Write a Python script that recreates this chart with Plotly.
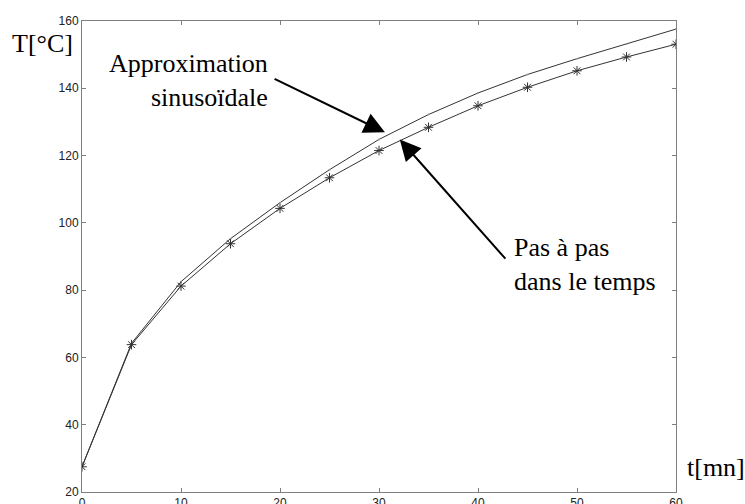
import plotly.graph_objects as go

# Temps [mn] et températures [°C]
t_mn = [0, 5, 10, 15, 20, 25, 30, 35, 40, 45, 50, 55, 60]
temp_pas_a_pas = [27.5, 63.8, 81.2, 93.8, 104.3, 113.4, 121.5, 128.4, 134.8, 140.3, 145.2, 149.3, 153.1]
temp_sinus = [27.5, 64.2, 82.5, 95.3, 106.0, 115.8, 124.8, 132.2, 138.6, 144.1, 148.8, 153.2, 157.6]

x_ticks = [0, 10, 20, 30, 40, 50, 60]
y_ticks = [20, 40, 60, 80, 100, 120, 140, 160]

serif = "Liberation Serif, Times New Roman, serif"
sans = "Liberation Sans, Arial, sans-serif"

fig = go.Figure()

# approximation sinusoïdale (trait continu, petits points)
fig.add_trace(go.Scatter(x=t_mn, y=temp_sinus, mode="lines+markers",
                         line=dict(color="#333333", width=1),
                         marker=dict(symbol="circle", size=2, color="#999999"),
                         showlegend=False))

# pas à pas dans le temps (étoiles)
fig.add_trace(go.Scatter(x=t_mn, y=temp_pas_a_pas, mode="lines+markers",
                         line=dict(color="#333333", width=1),
                         marker=dict(symbol="asterisk-open", size=8,
                                     line=dict(color="#111111", width=1)),
                         showlegend=False))

axis_style = dict(showgrid=False, zeroline=False, showline=True, linecolor="#808080",
                  linewidth=1, mirror="ticks", ticks="inside", ticklen=4,
                  tickcolor="#808080", tickfont=dict(family=sans, size=12, color="#222222"),
                  automargin=False)

fig.update_xaxes(range=[0, 60], tickvals=x_ticks, **axis_style)
fig.update_yaxes(range=[20, 160], tickvals=y_ticks, **axis_style)

# textes
fig.add_annotation(text="T[°C]", xref="paper", yref="paper", x=-0.121, y=0.953,
                   xanchor="left", yanchor="middle", showarrow=False,
                   font=dict(family=serif, size=26, color="black"))
fig.add_annotation(text="t[mn]", xref="paper", yref="paper", x=1.015, y=0.053,
                   xanchor="left", yanchor="middle", showarrow=False,
                   font=dict(family=serif, size=26, color="black"))
fig.add_annotation(text="Approximation<br>sinusoïdale", xref="paper", yref="paper",
                   x=0.3165, y=0.874, xanchor="right", yanchor="middle", align="right",
                   showarrow=False, font=dict(family=serif, size=26, color="black"))
fig.add_annotation(text="Pas à pas<br>dans le temps", xref="paper", yref="paper",
                   x=0.724, y=0.482, xanchor="left", yanchor="middle", align="left",
                   showarrow=False, font=dict(family=serif, size=26, color="black"))

# flèches
fig.add_annotation(x=30.6, y=126.9, ax=19.3, ay=143.0, xref="x", yref="y",
                   axref="x", ayref="y", text="", showarrow=True,
                   arrowhead=2, arrowsize=2.1, arrowwidth=2, arrowcolor="black", standoff=0)
fig.add_annotation(x=32.1, y=124.8, ax=42.9, ay=88.9, xref="x", yref="y",
                   axref="x", ayref="y", text="", showarrow=True,
                   arrowhead=2, arrowsize=2.1, arrowwidth=2, arrowcolor="black", standoff=0)

fig.update_layout(width=745, height=504,
                  margin=dict(l=82, r=69, t=21, b=12),
                  paper_bgcolor="white", plot_bgcolor="white")

# pas de marge autour du graphique dans la page, pas de barre d'outils
fig.write_html("out.html", config={"displayModeBar": False},
               post_script="document.body.style.margin='0';")
